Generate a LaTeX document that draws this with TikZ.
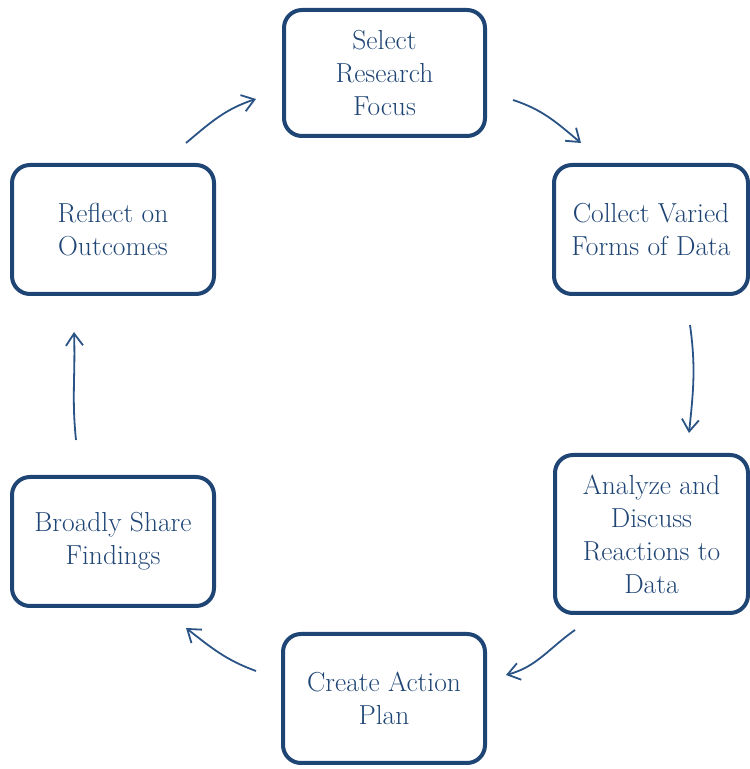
\documentclass[tikz,border=0pt]{standalone}
\usepackage{fontspec}
\usetikzlibrary{arrows.meta}
\definecolor{boxblue}{HTML}{1F4575}
\definecolor{arrblue}{HTML}{2A5386}
\tikzset{
  stagebox/.style={draw=boxblue, line width=4pt, rounded corners=18pt, text=boxblue,
    align=center, inner sep=0pt, font=\fontsize{27.5}{33}\selectfont},
  cyclearrow/.style={draw=arrblue, line width=1.8pt, -{Straight Barb[length=12pt,width=17pt,line width=1.8pt]}}
}
\begin{document}
\begin{tikzpicture}[x=1pt,y=1pt]
\useasboundingbox (0,0) rectangle (750,769);
\node[stagebox, minimum width=201pt, minimum height=126pt] (select) at (384.5,696) {Select\\Research\\Focus};
\node[stagebox, minimum width=194pt, minimum height=129pt] (collect) at (651,539.5) {Collect Varied\\Forms of Data};
\node[stagebox, minimum width=193pt, minimum height=158pt] (analyze) at (651.5,235) {Analyze and\\Discuss\\Reactions to\\Data};
\node[stagebox, minimum width=202pt, minimum height=129pt] (create) at (384,70.5) {Create Action\\Plan};
\node[stagebox, minimum width=202pt, minimum height=129pt] (share) at (113,227.5) {Broadly Share\\Findings};
\node[stagebox, minimum width=202pt, minimum height=129pt] (reflect) at (113,539.5) {Reflect on\\Outcomes};
% arrow end points
\coordinate (a1s) at (513,669); \coordinate (a1e) at (581,626);
\coordinate (a2s) at (690,444); \coordinate (a2e) at (689,336);
\coordinate (a3s) at (575,139); \coordinate (a3e) at (506,94);
\coordinate (a4s) at (256,98); \coordinate (a4e) at (186,141);
\coordinate (a5s) at (76,329); \coordinate (a5e) at (74,437);
\coordinate (a6s) at (186,626); \coordinate (a6e) at (256,670);
\draw[cyclearrow] (a1s) to[out=-18, in=140] (a1e);
\draw[cyclearrow] (a2s) to[out=-82, in=84] (a2e);
\draw[cyclearrow] (a3s) to[out=-145, in=15] (a3e);
\draw[cyclearrow] (a4s) to[out=160, in=-38] (a4e);
\draw[cyclearrow] (a5s) to[out=96, in=-88] (a5e);
\draw[cyclearrow] (a6s) to[out=40, in=198] (a6e);
\end{tikzpicture}
\end{document}
